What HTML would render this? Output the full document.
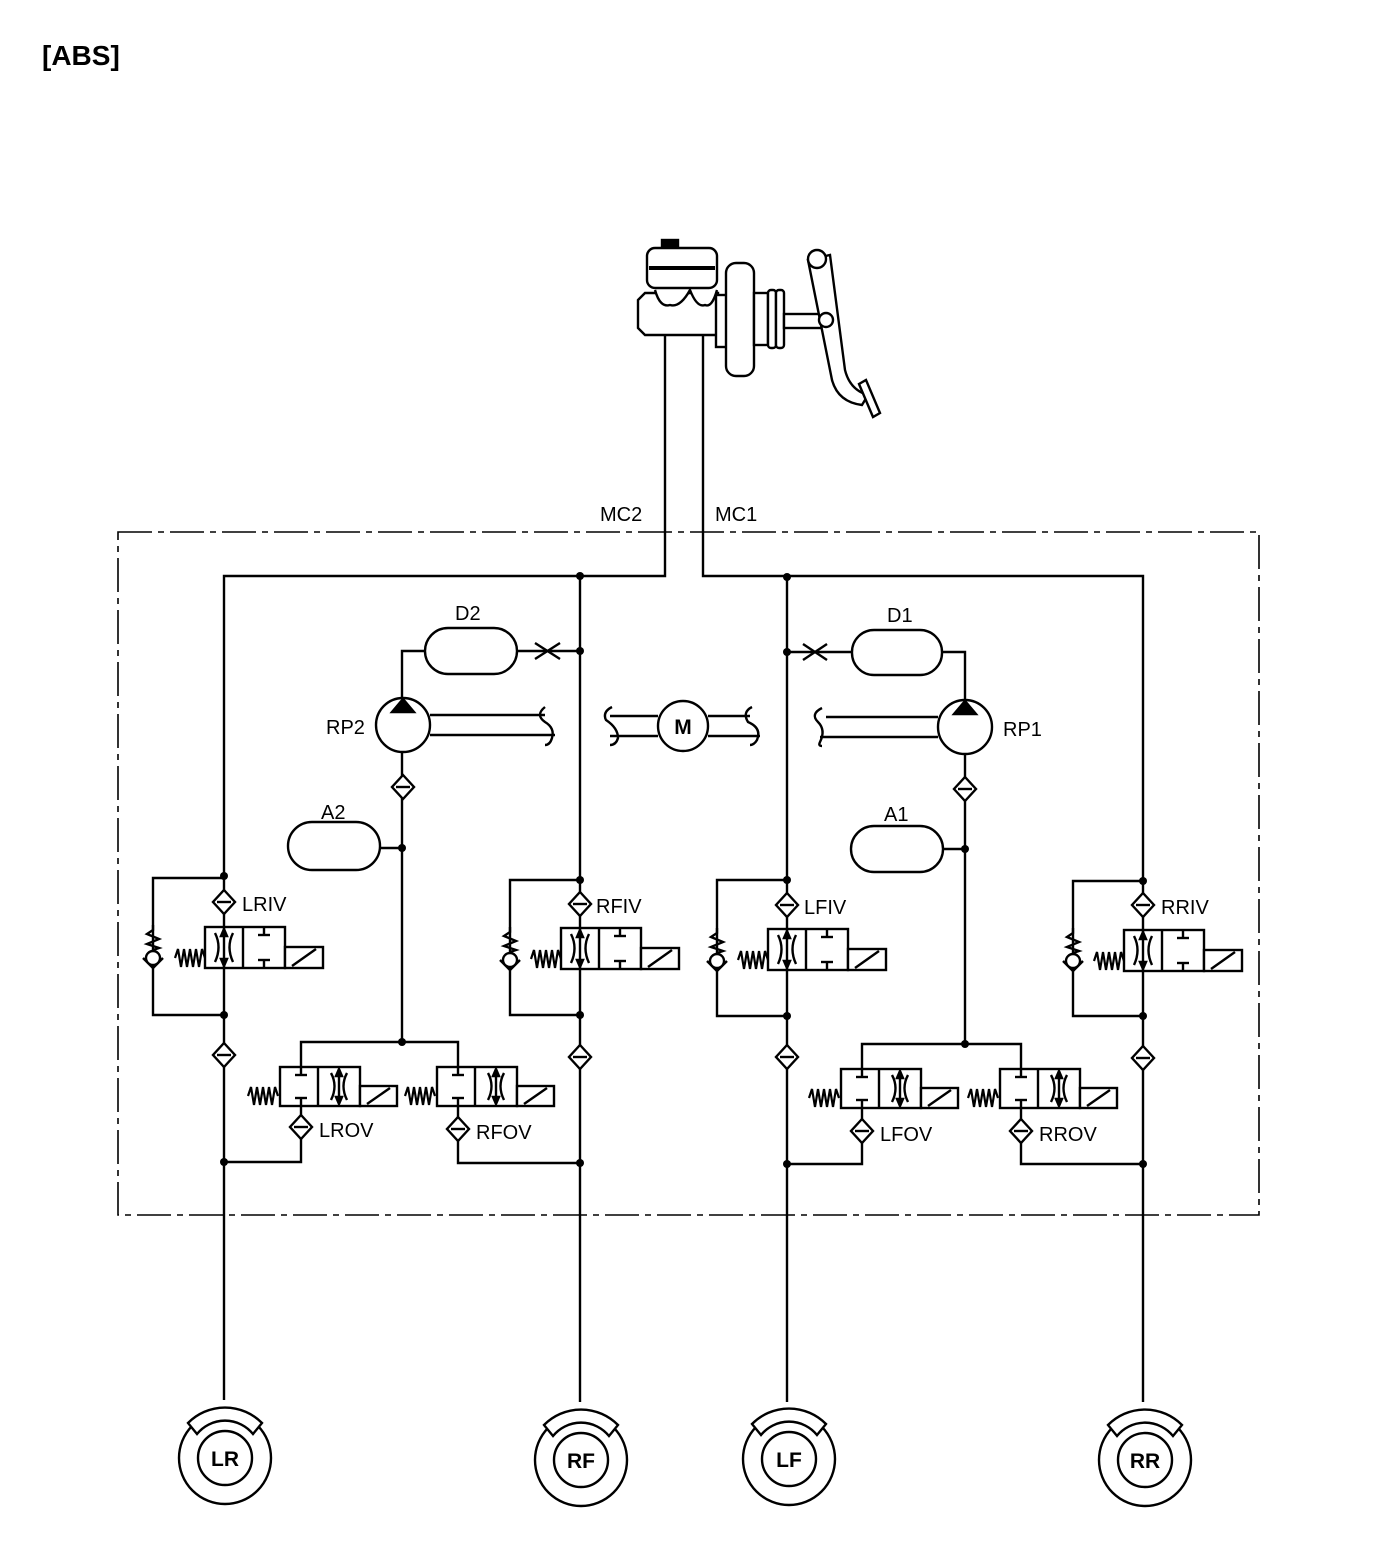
<!DOCTYPE html>
<html><head><meta charset="utf-8"><style>
html,body{margin:0;padding:0;background:#fff}
svg{display:block}
text{font-family:"Liberation Sans",Arial,sans-serif;fill:#000}
</style></head><body>
<svg width="1376" height="1554" viewBox="0 0 1376 1554" xmlns="http://www.w3.org/2000/svg">
<defs>
<g id="flt">
<path d="M0,-12 L11,0 L0,12 L-11,0 Z" fill="#fff" stroke="#000" stroke-width="2.4"/>
<line x1="-7" y1="0" x2="7" y2="0" stroke="#000" stroke-width="2.4"/>
</g>
<g id="spr">
<path d="M0,0 L3,-9 L6,9 L9,-9 L12,9 L15,-9 L18,9 L21,-9 L24,9 L27,-9 L30,0" fill="none" stroke="#000" stroke-width="2.2"/>
</g>
<g id="iv" fill="none" stroke="#000" stroke-width="2.4">
<rect x="-19" y="0" width="80" height="41" fill="#fff"/>
<line x1="19" y1="0" x2="19" y2="41"/>
<rect x="61" y="20" width="38" height="21" fill="#fff"/>
<line x1="68" y1="39" x2="92" y2="22"/>
<path d="M-9,6 Q-2,20 -9,35"/>
<path d="M9,6 Q2,20 9,35"/>
<line x1="0" y1="0" x2="0" y2="41"/>
<path d="M-3,9 L0,2 L3,9 Z" fill="#000"/>
<path d="M-3,32 L0,39 L3,32 Z" fill="#000"/>
<line x1="40" y1="0" x2="40" y2="8"/><line x1="34" y1="8" x2="46" y2="8"/>
<line x1="40" y1="41" x2="40" y2="33"/><line x1="34" y1="33" x2="46" y2="33"/>
<use href="#spr" x="-49" y="31"/>
</g>
<g id="ov" fill="none" stroke="#000" stroke-width="2.4">
<rect x="-21" y="0" width="80" height="39" fill="#fff"/>
<line x1="17" y1="0" x2="17" y2="39"/>
<rect x="59" y="19" width="37" height="20" fill="#fff"/>
<line x1="66" y1="37" x2="89" y2="21"/>
<line x1="0" y1="0" x2="0" y2="8"/><line x1="-6" y1="8" x2="6" y2="8"/>
<line x1="0" y1="39" x2="0" y2="31"/><line x1="-6" y1="31" x2="6" y2="31"/>
<path d="M30,6 Q37,19 30,33"/>
<path d="M46,6 Q39,19 46,33"/>
<line x1="38" y1="2" x2="38" y2="37"/>
<path d="M35,9 L38,2 L41,9 Z" fill="#000"/>
<path d="M35,30 L38,37 L41,30 Z" fill="#000"/>
<use href="#spr" x="-53" y="29"/>
</g>
<g id="chk" fill="none" stroke="#000" stroke-width="2.4">
<path d="M0,-33 L0,-28 L-6,-24 L6,-19 L-6,-14 L6,-10 L0,-8"/>
<path d="M-10,0 L0,10 L10,0"/>
<circle r="7" fill="#fff"/>
</g>
<g id="wheel" fill="none" stroke="#000" stroke-width="2.4">
<circle r="46"/>
<circle r="27"/>
<path d="M-37,-35 A52,52 0 0 1 37,-35 L28,-24 A36,36 0 0 0 -28,-24 Z" fill="#fff"/>
</g>
</defs>

<text x="42" y="65" font-size="28" font-weight="bold">[ABS]</text>

<rect x="118" y="532" width="1141" height="683" fill="none" stroke="#000" stroke-width="1.6" stroke-dasharray="34,6,6,6"/>

<g fill="none" stroke="#000" stroke-width="2.4">
<polyline points="665,335 665,576 224,576 224,1400"/>
<polyline points="703,335 703,576 1143,576 1143,1402"/>
<line x1="580" y1="576" x2="580" y2="1402"/>
<line x1="787" y1="577" x2="787" y2="1402"/>

<rect x="425" y="628" width="92" height="46" rx="23" fill="#fff"/>
<polyline points="425,651 402,651 402,1042"/>
<line x1="517" y1="651" x2="580" y2="651"/>
<line x1="535" y1="643" x2="560" y2="659"/><line x1="535" y1="659" x2="560" y2="643"/>
<circle cx="403" cy="725" r="27" fill="#fff"/>
<path d="M392,712 L403,699 L414,712 Z" fill="#000"/>
<line x1="430" y1="715" x2="545" y2="715"/>
<line x1="430" y1="735" x2="555" y2="735"/>
<path d="M545,707 Q535,715 545,722 Q555,728 552,738 Q550,745 545,745"/>

<circle cx="683" cy="726" r="25" fill="#fff"/>
<line x1="610" y1="716" x2="658" y2="716"/><line x1="610" y1="736" x2="658" y2="736"/>
<line x1="708" y1="716" x2="750" y2="716"/><line x1="708" y1="736" x2="760" y2="736"/>
<path d="M612,707 Q602,712 606,720 Q618,728 618,738 Q616,745 610,745"/>
<path d="M752,707 Q742,712 748,722 Q762,728 757,740 Q754,745 750,745"/>

<rect x="852" y="630" width="90" height="45" rx="22" fill="#fff"/>
<polyline points="942,652 965,652 965,1044"/>
<line x1="852" y1="652" x2="787" y2="652"/>
<line x1="803" y1="644" x2="827" y2="660"/><line x1="803" y1="660" x2="827" y2="644"/>
<circle cx="965" cy="727" r="27" fill="#fff"/>
<path d="M954,714 L965,701 L976,714 Z" fill="#000"/>
<line x1="826" y1="717" x2="938" y2="717"/>
<line x1="820" y1="737" x2="938" y2="737"/>
<path d="M822,708 Q810,714 818,722 Q826,730 820,742 Q818,746 822,746"/>

<rect x="288" y="822" width="92" height="48" rx="24" fill="#fff"/>
<line x1="380" y1="848" x2="402" y2="848"/>
<rect x="851" y="826" width="92" height="46" rx="23" fill="#fff"/>
<line x1="943" y1="849" x2="965" y2="849"/>

<polyline points="224,878 153,878 153,1015 224,1015"/>
<polyline points="580,880 510,880 510,1015 580,1015"/>
<polyline points="787,880 717,880 717,1016 787,1016"/>
<polyline points="1143,881 1073,881 1073,1016 1143,1016"/>

<polyline points="301,1067 301,1042 458,1042 458,1067"/>
<polyline points="862,1069 862,1044 1021,1044 1021,1069"/>
<polyline points="301,1106 301,1162 224,1162"/>
<polyline points="458,1106 458,1163 580,1163"/>
<polyline points="862,1108 862,1164 787,1164"/>
<polyline points="1021,1108 1021,1164 1143,1164"/>
</g>

<g fill="#fff" stroke="#000" stroke-width="2.4">
<rect x="662" y="240" width="16" height="8" fill="#000"/>
<rect x="647" y="248" width="70" height="40" rx="8"/>
<line x1="649" y1="268" x2="715" y2="268" stroke-width="4"/>
<path d="M638,300 L645,293 L718,293 L718,335 L645,335 L638,328 Z"/>
<path d="M655,290 Q660,308 670,305 Q680,308 690,290 Q697,308 705,305 Q712,308 717,290" fill="#fff"/>
<rect x="716" y="295" width="12" height="52"/>
<rect x="726" y="263" width="28" height="113" rx="10"/>
<rect x="754" y="293" width="14" height="52"/>
<rect x="768" y="290" width="8" height="58" rx="3"/>
<rect x="776" y="290" width="8" height="58" rx="3"/>
<rect x="784" y="314" width="40" height="14"/>
<path d="M808,260 L830,255 L845,370 Q850,390 868,395 L862,405 Q838,402 832,380 Z"/>
<circle cx="817" cy="259" r="9"/>
<circle cx="826" cy="320" r="7"/>
<path d="M866,380 L880,413 L873,417 L859,384 Z"/>
</g>

<g fill="#000">
<circle cx="580" cy="576" r="4"/><circle cx="787" cy="577" r="4"/>
<circle cx="580" cy="651" r="4"/><circle cx="787" cy="652" r="4"/>
<circle cx="402" cy="848" r="4"/><circle cx="965" cy="849" r="4"/>
<circle cx="224" cy="876" r="4"/><circle cx="580" cy="880" r="4"/><circle cx="787" cy="880" r="4"/><circle cx="1143" cy="881" r="4"/>
<circle cx="224" cy="1015" r="4"/><circle cx="580" cy="1015" r="4"/><circle cx="787" cy="1016" r="4"/><circle cx="1143" cy="1016" r="4"/>
<circle cx="402" cy="1042" r="4"/><circle cx="965" cy="1044" r="4"/>
<circle cx="224" cy="1162" r="4"/><circle cx="580" cy="1163" r="4"/><circle cx="787" cy="1164" r="4"/><circle cx="1143" cy="1164" r="4"/>
</g>

<use href="#flt" x="403" y="787"/><use href="#flt" x="965" y="789"/>
<use href="#flt" x="224" y="902"/><use href="#flt" x="580" y="904"/><use href="#flt" x="787" y="905"/><use href="#flt" x="1143" y="905"/>
<use href="#flt" x="224" y="1055"/><use href="#flt" x="580" y="1057"/><use href="#flt" x="787" y="1057"/><use href="#flt" x="1143" y="1058"/>
<use href="#flt" x="301" y="1127"/><use href="#flt" x="458" y="1129"/><use href="#flt" x="862" y="1131"/><use href="#flt" x="1021" y="1131"/>

<use href="#chk" x="153" y="958"/><use href="#chk" x="510" y="960"/><use href="#chk" x="717" y="961"/><use href="#chk" x="1073" y="961"/>

<use href="#iv" x="224" y="927"/><use href="#iv" x="580" y="928"/><use href="#iv" x="787" y="929"/><use href="#iv" x="1143" y="930"/>
<use href="#ov" x="301" y="1067"/><use href="#ov" x="458" y="1067"/><use href="#ov" x="862" y="1069"/><use href="#ov" x="1021" y="1069"/>

<use href="#wheel" x="225" y="1458"/><use href="#wheel" x="581" y="1460"/><use href="#wheel" x="789" y="1459"/><use href="#wheel" x="1145" y="1460"/>

<g font-size="20">
<text x="600" y="521">MC2</text>
<text x="715" y="521">MC1</text>
<text x="455" y="620">D2</text>
<text x="887" y="622">D1</text>
<text x="326" y="734">RP2</text>
<text x="1003" y="736">RP1</text>
<text x="321" y="819">A2</text>
<text x="884" y="821">A1</text>
<text x="242" y="911">LRIV</text>
<text x="596" y="913">RFIV</text>
<text x="804" y="914">LFIV</text>
<text x="1161" y="914">RRIV</text>
<text x="319" y="1137">LROV</text>
<text x="476" y="1139">RFOV</text>
<text x="880" y="1141">LFOV</text>
<text x="1039" y="1141">RROV</text>
</g>
<g font-size="21" font-weight="bold" text-anchor="middle">
<text x="683" y="734">M</text>
<text x="225" y="1466">LR</text>
<text x="581" y="1468">RF</text>
<text x="789" y="1467">LF</text>
<text x="1145" y="1468">RR</text>
</g>
</svg>
</body></html>
